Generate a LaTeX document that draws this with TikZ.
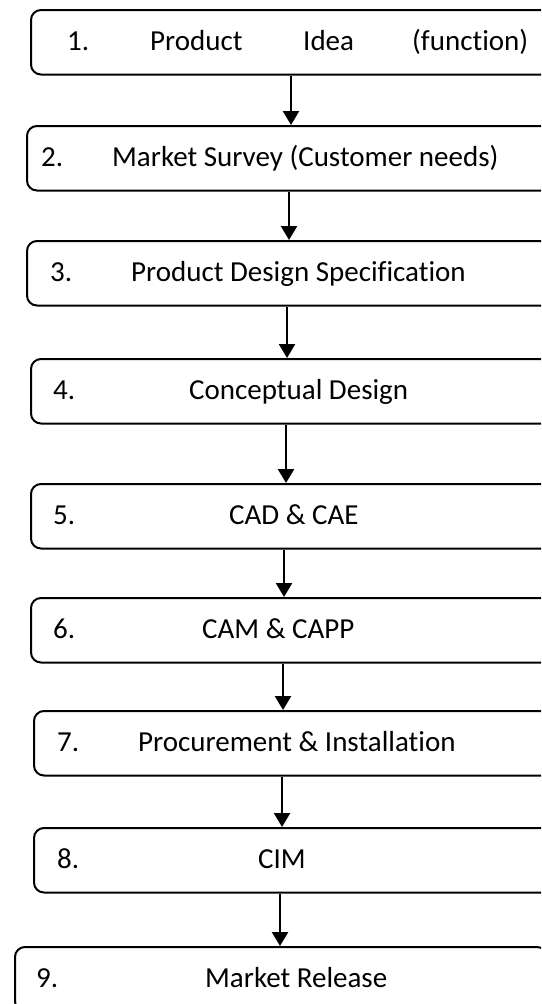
\documentclass[tikz,border=0pt]{standalone}
\usepackage{fontspec}
\setmainfont{Carlito}[Ligatures=NoCommon]
\usetikzlibrary{arrows.meta}
\begin{document}
\begin{tikzpicture}[x=1pt,y=-1pt,
  stagebox/.style={draw=black,line width=2pt,rounded corners=10pt,anchor=north west,
    inner sep=0pt,minimum height=64.5pt},
  lbl/.style={anchor=base west,inner sep=0pt,font=\fontsize{29}{34}\selectfont},
  arr/.style={line width=2.5pt,-{Triangle[width=16pt,length=14pt]}}]
\useasboundingbox (0,0) rectangle (541,1004);
\clip (0,0) rectangle (541,1004);
% boxes
\node[stagebox,minimum width=530pt] (b1) at (30,9) {};
\node[stagebox,minimum width=534pt] (b2) at (26,125) {};
\node[stagebox,minimum width=534pt] (b3) at (26,240) {};
\node[stagebox,minimum width=530pt] (b4) at (30,358) {};
\node[stagebox,minimum width=530pt] (b5) at (30,483) {};
\node[stagebox,minimum width=530pt] (b6) at (30,597) {};
\node[stagebox,minimum width=527pt] (b7) at (33,710) {};
\node[stagebox,minimum width=527pt] (b8) at (33,827) {};
\node[stagebox,minimum width=532pt] (b9) at (14,946) {};
% texts
\node[lbl] (n1) at (67,50.8) {1.};
\node[lbl] (t1a) at (150,50.8) {Product};
\node[lbl] (t1b) at (303,50.8) {Idea};
\node[lbl] (t1c) at (412,50.8) {(function)};
\node[lbl] (n2) at (41,166.3) {2.};
\node[lbl] (t2) at (112,166.3) {Market Survey (Customer needs)};
\node[lbl] (n3) at (50,281.3) {3.};
\node[lbl] (t3) at (131,281.3) {Product Design Specification};
\node[lbl] (n4) at (53,399.3) {4.};
\node[lbl] (t4) at (189,399.3) {Conceptual Design};
\node[lbl] (n5) at (53,524.3) {5.};
\node[lbl] (t5) at (229,524.3) {CAD \& CAE};
\node[lbl] (n6) at (53,638.3) {6.};
\node[lbl] (t6) at (202,638.3) {CAM \& CAPP};
\node[lbl] (n7) at (57,751.3) {7.};
\node[lbl] (t7) at (138,751.3) {Procurement \& Installation};
\node[lbl] (n8) at (57,868.3) {8.};
\node[lbl] (t8) at (258,868.3) {CIM};
\node[lbl] (n9) at (36,987.3) {9.};
\node[lbl] (t9) at (205,987.3) {Market Release};
% arrow columns
\coordinate (c1) at (291,0);
\coordinate (c2) at (289,0);
\coordinate (c3) at (287,0);
\coordinate (c4) at (286,0);
\coordinate (c5) at (284,0);
\coordinate (c6) at (283,0);
\coordinate (c7) at (282,0);
\coordinate (c8) at (280,0);
\draw[arr] (b1.south -| c1) -- (b2.north -| c1);
\draw[arr] (b2.south -| c2) -- (b3.north -| c2);
\draw[arr] (b3.south -| c3) -- (b4.north -| c3);
\draw[arr] (b4.south -| c4) -- (b5.north -| c4);
\draw[arr] (b5.south -| c5) -- (b6.north -| c5);
\draw[arr] (b6.south -| c6) -- (b7.north -| c6);
\draw[arr] (b7.south -| c7) -- (b8.north -| c7);
\draw[arr] (b8.south -| c8) -- (b9.north -| c8);
\end{tikzpicture}
\end{document}
